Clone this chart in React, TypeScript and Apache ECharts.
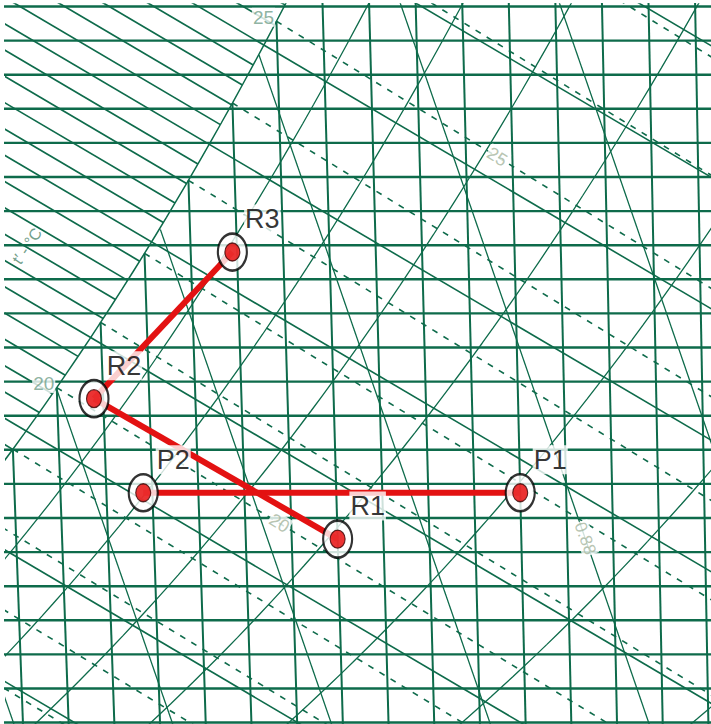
import React, { useEffect, useRef } from "react";
import * as echarts from "echarts";

// ---- psychrometric constants (h–x chart with oblique enthalpy axis) ----
const PRESSURE = 101.325; // kPa
const SKEW = 2.5925; // abscissa = h - SKEW * x

// ---- chart line values ----
const humidityRatios = [
  9.75, 10.25, 10.75, 11.25, 11.75, 12.25, 12.75, 13.25, 13.75, 14.25, 14.75,
  15.25, 15.75, 16.25, 16.75, 17.25, 17.75, 18.25, 18.75, 19.25, 19.75, 20.25,
]; // g/kg(DA)
const dryBulbTemps = [17, 18, 19, 20, 21, 22, 23, 24, 25, 26, 27, 28, 29, 30, 31, 32, 33, 34, 35]; // °C
const enthalpyMajor = [40, 45, 50, 55, 60, 65, 70, 75, 80, 85, 90]; // kJ/kg(DA)
const enthalpyFog = [
  51, 52, 53, 54, 56, 57, 58, 59, 61, 62, 63, 64, 66, 67, 68, 69, 71, 72, 73, 74,
  76, 77, 78, 79,
]; // kJ/kg(DA), fog zone only
const wetBulbTemps = [14, 15, 16, 17, 18, 19, 20, 21, 22, 23, 24, 25, 26, 27, 28, 29]; // °C
const relativeHumidities = [30, 40, 50, 60, 70, 80, 90]; // %
const specificVolumes = [0.84, 0.85, 0.86, 0.87, 0.88, 0.89, 0.9, 0.91]; // m3/kg(DA)

const saturationTempLabels = [20, 25];
const wetBulbTempLabels = [20, 25];
const volumeLabels = [0.88];

// ---- state points and processes ----
const pointNames = ["P1", "P2", "R1", "R2", "R3"];
const pointDryBulb = [30.0, 21.8, 26.0, 20.8, 23.9]; // °C
const pointHumidity = [13.12, 13.12, 12.44, 14.5, 16.65]; // g/kg(DA)
const processLines = [
  ["P2", "P1"],
  ["R2", "R1"],
  ["R2", "R3"],
];

// ---- visible window of the chart ----
const X_MIN = 18.187;
const X_MAX = 33.987;
const W_MIN = 9.729;
const W_MAX = 20.287;
const W_LO = 9.0;
const W_HI = 21.0;

const GREEN = "#0e6b4b";
const LABEL_GREEN = "#72a08a";
const PALE = "#a6b69e";
const RED = "#e31212";

// ---- psychrometric relations ----
const satPressure = (t: number) => 0.61094 * Math.exp((17.625 * t) / (t + 243.04));
const ratioFromVapour = (pw: number) => (622 * pw) / (PRESSURE - pw);
const satRatio = (t: number) => ratioFromVapour(satPressure(t));
const enthalpy = (t: number, w: number) => 1.006 * t + (w / 1000) * (2501 + 1.86 * t);
const abscissa = (h: number, w: number) => h - SKEW * w;
const chartXY = (t: number, w: number): [number, number] => [abscissa(enthalpy(t, w), w), w];

function satTempFromEnthalpy(h: number) {
  let lo = -20;
  let hi = 60;
  for (let i = 0; i < 60; i++) {
    const mid = (lo + hi) / 2;
    if (enthalpy(mid, satRatio(mid)) < h) lo = mid;
    else hi = mid;
  }
  return (lo + hi) / 2;
}

function isotherm(t: number) {
  return [chartXY(t, W_LO), chartXY(t, Math.min(satRatio(t), W_HI))];
}

function enthalpyLine(h: number) {
  return [
    [abscissa(h, W_LO), W_LO],
    [abscissa(h, W_HI), W_HI],
  ];
}

function fogLine(h: number) {
  const ws = satRatio(satTempFromEnthalpy(h));
  if (ws >= W_HI) return null;
  return [
    [abscissa(h, ws), ws],
    [abscissa(h, W_HI), W_HI],
  ];
}

function wetBulbAt(twb: number, w: number): [number, number] {
  const ws = satRatio(twb);
  const hs = enthalpy(twb, ws);
  const h = hs + 4.186e-3 * twb * (w - ws);
  return [abscissa(h, w), w];
}

function wetBulbLine(twb: number) {
  return [wetBulbAt(twb, satRatio(twb)), wetBulbAt(twb, W_LO)];
}

function rhCurve(phi: number) {
  const pts: [number, number][] = [];
  for (let t = 0; t <= 50; t += 0.25) {
    const w = ratioFromVapour(phi * satPressure(t));
    if (w < W_LO - 1) continue;
    pts.push(chartXY(t, w));
    if (w > W_HI + 1) break;
  }
  return pts;
}

const volumeTemp = (v: number, w: number) =>
  (v * PRESSURE) / (0.287042 * (1 + 0.0016078 * w)) - 273.15;

function volumeLine(v: number) {
  const pts: [number, number][] = [];
  for (let w = W_LO; w <= W_HI; w += 0.02) {
    const t = volumeTemp(v, w);
    if (w > satRatio(t)) break;
    pts.push(chartXY(t, w));
  }
  return pts;
}

function lineSeries(data: any[], width: number, type: any = "solid", color = GREEN, z = 2) {
  return {
    type: "line",
    data,
    symbol: "none",
    silent: true,
    clip: true,
    z,
    lineStyle: { color, width, type, cap: "butt" },
    emphasis: { disabled: true },
  };
}

const ELLIPSE = "path://M50 0A50 50 0 1 1 50 100A50 50 0 1 1 50 0Z";
const POINT_FONT = '"Liberation Sans Narrow", "Liberation Sans", Arial, sans-serif';

function buildOption() {
  const series: any[] = [];

  humidityRatios.forEach((w) =>
    series.push(lineSeries([[X_MIN - 5, w], [X_MAX + 5, w]], 2.4))
  );
  dryBulbTemps.forEach((t) => series.push(lineSeries(isotherm(t), 2.0)));
  enthalpyMajor.forEach((h) => series.push(lineSeries(enthalpyLine(h), 1.6)));
  enthalpyFog.forEach((h) => {
    const seg = fogLine(h);
    if (seg) series.push(lineSeries(seg, 1.7));
  });
  wetBulbTemps.forEach((t) => series.push(lineSeries(wetBulbLine(t), 1.6, [6, 7])));
  relativeHumidities.forEach((rh) => series.push(lineSeries(rhCurve(rh / 100), 1.3)));
  series.push(lineSeries(rhCurve(1), 1.5));
  specificVolumes.forEach((v) => series.push(lineSeries(volumeLine(v), 1.3)));

  // scale labels
  series.push({
    type: "scatter",
    silent: true,
    z: 5,
    symbolSize: 1,
    itemStyle: { color: "rgba(0,0,0,0)" },
    data: saturationTempLabels.map((t) => ({ name: String(t), value: chartXY(t, satRatio(t)) })),
    label: {
      show: true,
      formatter: "{b}",
      position: "inside",
      offset: [-13, -4],
      fontSize: 19,
      fontFamily: POINT_FONT,
      color: LABEL_GREEN,
      backgroundColor: "#ffffff",
      padding: [0, 1],
    },
  });
  series.push({
    type: "scatter",
    silent: true,
    z: 5,
    symbolSize: 1,
    itemStyle: { color: "rgba(0,0,0,0)" },
    data: wetBulbTempLabels.map((t) => ({
      name: String(t),
      value: wetBulbAt(t, satRatio(t) - 2.05),
    })),
    label: {
      show: true,
      formatter: "{b}",
      position: "inside",
      offset: [-8, 0],
      rotate: -32,
      fontSize: 18,
      fontFamily: POINT_FONT,
      color: PALE,
      backgroundColor: "#ffffff",
      padding: [0, 1],
    },
  });
  series.push({
    type: "scatter",
    silent: true,
    z: 5,
    symbolSize: 1,
    itemStyle: { color: "rgba(0,0,0,0)" },
    data: volumeLabels.map((v) => ({
      name: v.toFixed(2),
      value: chartXY(volumeTemp(v, 12.45), 12.45),
    })),
    label: {
      show: true,
      formatter: "{b}",
      position: "inside",
      rotate: -70,
      fontSize: 17,
      fontFamily: POINT_FONT,
      color: PALE,
      backgroundColor: "#ffffff",
      padding: [0, 1],
    },
  });

  // processes
  const pointXY = (name: string) => {
    const i = pointNames.indexOf(name);
    return chartXY(pointDryBulb[i], pointHumidity[i]);
  };
  processLines.forEach(([a, b]) =>
    series.push(lineSeries([pointXY(a), pointXY(b)], 6, "solid", RED, 4))
  );

  // state points
  const points = pointNames.map((n, i) => ({
    name: n,
    value: chartXY(pointDryBulb[i], pointHumidity[i]),
  }));
  series.push({
    type: "scatter",
    silent: true,
    z: 6,
    symbol: ELLIPSE,
    symbolSize: [29, 37],
    itemStyle: { color: "#ffffff", borderColor: "#000000", borderWidth: 2.4 },
    data: points,
    label: {
      show: true,
      formatter: "{b}",
      position: "inside",
      offset: [30, -33],
      fontSize: 27,
      fontFamily: POINT_FONT,
      color: "#000000",
      backgroundColor: "#ffffff",
      padding: [2, 1, 0, 1],
    },
  });
  series.push({
    type: "scatter",
    silent: true,
    z: 7,
    symbol: ELLIPSE,
    symbolSize: [15, 18],
    itemStyle: { color: "#e60000", borderColor: "#3a0000", borderWidth: 1.2 },
    data: points,
  });

  return {
    animation: false,
    backgroundColor: "#ffffff",
    grid: { left: 6, top: 4, right: 0, bottom: 0, containLabel: false },
    xAxis: { type: "value", min: X_MIN, max: X_MAX, show: false, splitLine: { show: false } },
    yAxis: { type: "value", min: W_MIN, max: W_MAX, show: false, splitLine: { show: false } },
    graphic: [
      {
        type: "text",
        x: 27,
        y: 246,
        rotation: (56 * Math.PI) / 180,
        z: 5,
        style: {
          text: "t′ - °C",
          fill: LABEL_GREEN,
          font: '16px "Liberation Sans Narrow", "Liberation Sans", sans-serif',
          textAlign: "center",
          textVerticalAlign: "middle",
          align: "center",
          verticalAlign: "middle",
        },
      },
    ],
    series,
  };
}

export default function App() {
  const ref = useRef<HTMLDivElement>(null);
  useEffect(() => {
    if (!ref.current) return;
    const chart = echarts.init(ref.current, null, { renderer: "svg" });
    chart.setOption(buildOption() as any);
    return () => chart.dispose();
  }, []);
  return (
    <div
      ref={ref}
      style={{ position: "fixed", left: 0, top: 0, width: 711, height: 724, background: "#ffffff" }}
    />
  );
}
